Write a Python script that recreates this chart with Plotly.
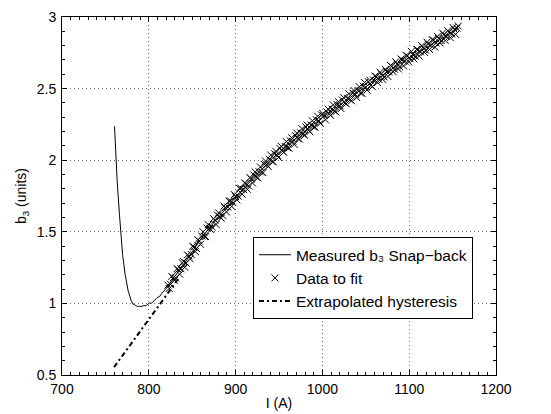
import plotly.graph_objects as go

# Measured b3 snap-back (solid line)
meas_I = [760.5, 761.9, 763.6, 766.2, 767.9, 769.8, 772.7, 776.3, 779.8, 781.7,
          783.5, 785, 787, 789, 791, 793, 795, 797, 799, 801,
          803, 805, 807, 809, 811, 813, 815, 817, 819, 822,
          830, 840, 850, 860, 870, 880, 890, 900, 910, 920,
          930, 940, 950, 960, 970, 980, 990, 1000, 1010, 1020,
          1030, 1040, 1050, 1060, 1070, 1080, 1090, 1100, 1110, 1120,
          1130, 1140, 1150, 1157]
meas_b = [2.237, 2.00, 1.85, 1.62, 1.50, 1.342, 1.204, 1.085, 1.019, 0.996,
          0.991, 0.985, 0.978, 0.981, 0.976, 0.983, 0.986, 0.984, 0.995, 1.003,
          1.001, 1.010, 1.024, 1.036, 1.046, 1.052, 1.070, 1.083, 1.097, 1.118,
          1.19, 1.27, 1.36, 1.45, 1.53, 1.60, 1.67, 1.74, 1.81, 1.87,
          1.935, 2.00, 2.054, 2.106, 2.156, 2.205, 2.252, 2.298, 2.343, 2.387,
          2.43, 2.472, 2.514, 2.555, 2.596, 2.637, 2.677, 2.716, 2.753, 2.79,
          2.826, 2.861, 2.895, 2.918]

# Data to fit (crosses)
fit_I = [822, 823.5, 825, 826.5, 828, 829.5, 831, 832.5, 834, 835.5,
         837, 838.5, 840, 841.5, 843, 844.5, 846, 847.5, 849, 850.5,
         852, 853.5, 855, 856.5, 858, 859.5, 861, 862.5, 864, 865.5,
         867, 868.5, 870, 871.5, 873, 874.5, 876, 877.5, 879, 880.5,
         882, 883.5, 885, 886.5, 888, 889.5, 891, 892.5, 894, 895.5,
         897, 898.5, 900, 901.5, 903, 904.5, 906, 907.5, 909, 910.5,
         912, 913.5, 915, 916.5, 918, 919.5, 921, 922.5, 924, 925.5,
         927, 928.5, 930, 931.5, 933, 934.5, 936, 937.5, 939, 940.5,
         942, 943.5, 945, 946.5, 948, 949.5, 951, 952.5, 954, 955.5,
         957, 958.5, 960, 961.5, 963, 964.5, 966, 967.5, 969, 970.5,
         972, 973.5, 975, 976.5, 978, 979.5, 981, 982.5, 984, 985.5,
         987, 988.5, 990, 991.5, 993, 994.5, 996, 997.5, 999, 1000.5,
         1002, 1003.5, 1005, 1006.5, 1008, 1009.5, 1011, 1012.5, 1014, 1015.5,
         1017, 1018.5, 1020, 1021.5, 1023, 1024.5, 1026, 1027.5, 1029, 1030.5,
         1032, 1033.5, 1035, 1036.5, 1038, 1039.5, 1041, 1042.5, 1044, 1045.5,
         1047, 1048.5, 1050, 1051.5, 1053, 1054.5, 1056, 1057.5, 1059, 1060.5,
         1062, 1063.5, 1065, 1066.5, 1068, 1069.5, 1071, 1072.5, 1074, 1075.5,
         1077, 1078.5, 1080, 1081.5, 1083, 1084.5, 1086, 1087.5, 1089, 1090.5,
         1092, 1093.5, 1095, 1096.5, 1098, 1099.5, 1101, 1102.5, 1104, 1105.5,
         1107, 1108.5, 1110, 1111.5, 1113, 1114.5, 1116, 1117.5, 1119, 1120.5,
         1122, 1123.5, 1125, 1126.5, 1128, 1129.5, 1131, 1132.5, 1134, 1135.5,
         1137, 1138.5, 1140, 1141.5, 1143, 1144.5, 1146, 1147.5, 1149, 1150.5,
         1152, 1153.5, 1155, 1156.5]
fit_b = [1.128, 1.104, 1.133, 1.189, 1.178, 1.161, 1.178, 1.242, 1.236, 1.204,
         1.242, 1.284, 1.292, 1.252, 1.281, 1.339, 1.332, 1.312, 1.341, 1.399,
         1.394, 1.362, 1.383, 1.445, 1.436, 1.413, 1.470, 1.500, 1.468, 1.466,
         1.526, 1.550, 1.524, 1.515, 1.533, 1.592, 1.582, 1.551, 1.617, 1.632,
         1.604, 1.595, 1.615, 1.680, 1.668, 1.639, 1.673, 1.714, 1.716, 1.677,
         1.703, 1.760, 1.746, 1.723, 1.749, 1.804, 1.804, 1.763, 1.795, 1.841,
         1.836, 1.797, 1.820, 1.879, 1.868, 1.841, 1.897, 1.918, 1.882, 1.876,
         1.920, 1.953, 1.917, 1.913, 1.971, 1.994, 1.968, 1.956, 2.006, 2.036,
         1.991, 1.989, 2.045, 2.061, 2.035, 2.019, 2.083, 2.097, 2.063, 2.055,
         2.096, 2.130, 2.088, 2.084, 2.135, 2.157, 2.132, 2.110, 2.171, 2.189,
         2.150, 2.148, 2.191, 2.220, 2.185, 2.173, 2.232, 2.245, 2.210, 2.199,
         2.246, 2.275, 2.232, 2.231, 2.282, 2.307, 2.274, 2.257, 2.317, 2.326,
         2.311, 2.282, 2.338, 2.357, 2.322, 2.313, 2.357, 2.386, 2.343, 2.338,
         2.388, 2.409, 2.379, 2.360, 2.420, 2.437, 2.399, 2.394, 2.432, 2.464,
         2.422, 2.415, 2.469, 2.486, 2.458, 2.438, 2.488, 2.513, 2.469, 2.467,
         2.517, 2.542, 2.510, 2.490, 2.548, 2.559, 2.525, 2.513, 2.559, 2.587,
         2.583, 2.542, 2.564, 2.614, 2.602, 2.564, 2.582, 2.634, 2.618, 2.585,
         2.617, 2.661, 2.655, 2.617, 2.635, 2.687, 2.671, 2.637, 2.653, 2.707,
         2.701, 2.659, 2.692, 2.732, 2.728, 2.686, 2.708, 2.760, 2.739, 2.707,
         2.726, 2.774, 2.771, 2.727, 2.756, 2.800, 2.787, 2.753, 2.768, 2.824,
         2.811, 2.773, 2.802, 2.842, 2.839, 2.790, 2.818, 2.865, 2.850, 2.819,
         2.835, 2.888, 2.877, 2.836, 2.865, 2.904, 2.895, 2.855, 2.882, 2.927,
         2.914, 2.879, 2.922, 2.937]

# Extrapolated hysteresis (dash-dot)
ext_I = [760, 835]
ext_b = [0.555, 1.18]

x_ticks = [700, 800, 900, 1000, 1100, 1200]
y_ticks = [0.5, 1, 1.5, 2, 2.5, 3]
y_tick_text = ["0.5", "1", "1.5", "2", "2.5", "3"]

FONT = "Liberation Sans, Arial, Helvetica, sans-serif"

fig = go.Figure()
fig.add_trace(go.Scatter(
    x=meas_I, y=meas_b, mode="lines",
    line=dict(color="black", width=1),
    name="Measured b\u2083 Snap\u2212back"))
fig.add_trace(go.Scatter(
    x=fit_I, y=fit_b, mode="markers",
    marker=dict(symbol="x-thin", size=7, color="black",
                line=dict(color="black", width=1)),
    name="Data to fit"))
fig.add_trace(go.Scatter(
    x=ext_I, y=ext_b, mode="lines",
    line=dict(color="black", width=2, dash="5px,3px,2px,3px"),
    name="Extrapolated hysteresis"))

axis_common = dict(
    showline=True, linecolor="black", linewidth=1, mirror="allticks",
    ticks="inside", ticklen=5, tickcolor="black", tickwidth=1,
    showgrid=True, gridcolor="#6f6f6f", griddash="1px,3px", gridwidth=1,
    zeroline=False, automargin=False, ticklabeloverflow="allow",
    tickfont=dict(family=FONT, size=14, color="black"),
    title_font=dict(family=FONT, size=14, color="black"),
)

fig.update_xaxes(
    range=[700, 1200], tickmode="array", tickvals=x_ticks,
    minor=dict(dtick=10, ticks="inside", ticklen=3, tickcolor="black", showgrid=False),
    title_text="I (A)", title_standoff=2, ticklabelstandoff=1,
    **axis_common)
fig.update_yaxes(
    range=[0.5, 3], tickmode="array", tickvals=y_ticks, ticktext=y_tick_text,
    minor=dict(dtick=0.1, ticks="inside", ticklen=3, tickcolor="black", showgrid=False),
    title_text="b<sub>3</sub> (units)", title_standoff=6, ticklabelstandoff=2,
    **axis_common)

fig.update_layout(
    width=551, height=414,
    margin=dict(l=54, r=63, t=9, b=47),
    paper_bgcolor="white", plot_bgcolor="white",
    font=dict(family=FONT, size=14, color="black"),
    showlegend=True,
    legend=dict(x=0.44, y=0.385, xanchor="left", yanchor="top",
                bgcolor="white", bordercolor="black", borderwidth=1,
                font=dict(family=FONT, size=15.5, color="black"),
                tracegroupgap=0, itemwidth=32),
)

fig.write_html("out.html")
